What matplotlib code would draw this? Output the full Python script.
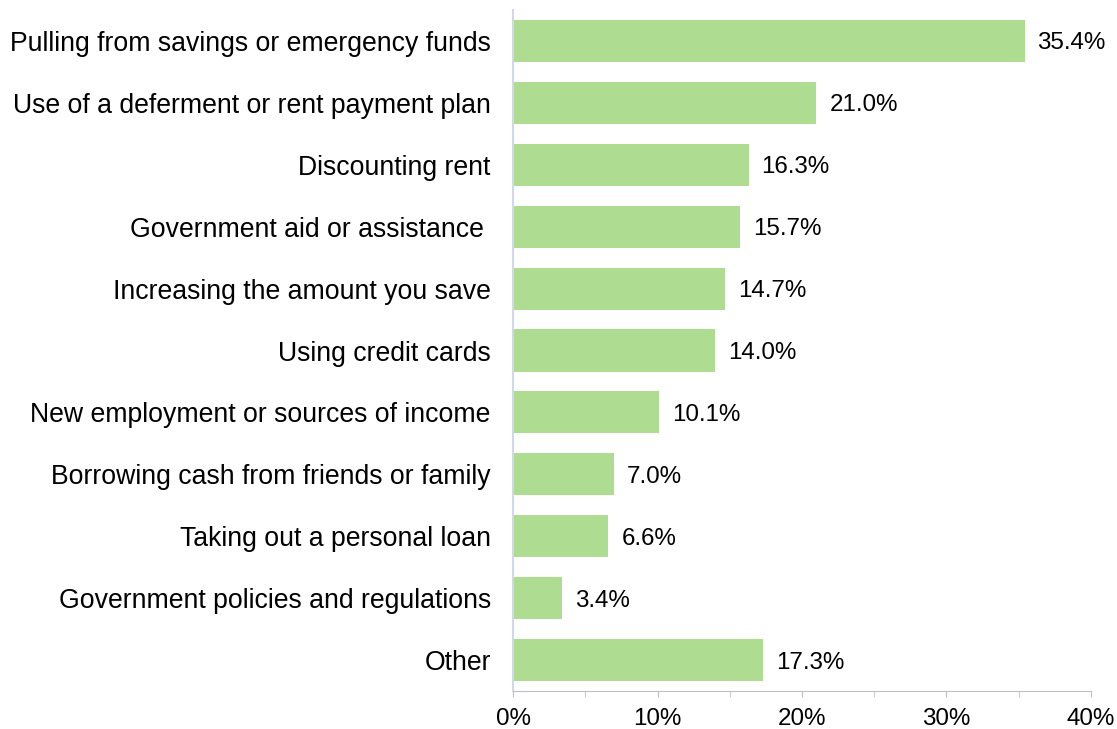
import matplotlib
matplotlib.use("Agg")
import matplotlib.pyplot as plt
from matplotlib.ticker import MultipleLocator, FuncFormatter

categories = [
    "Pulling from savings or emergency funds",
    "Use of a deferment or rent payment plan",
    "Discounting rent",
    "Government aid or assistance ",
    "Increasing the amount you save",
    "Using credit cards",
    "New employment or sources of income",
    "Borrowing cash from friends or family",
    "Taking out a personal loan",
    "Government policies and regulations",
    "Other",
]
values = [35.4, 21.0, 16.3, 15.7, 14.7, 14.0, 10.1, 7.0, 6.6, 3.4, 17.3]

plt.rcParams['font.family'] = ['Liberation Sans', 'DejaVu Sans']

fig = plt.figure(figsize=(11.17, 7.29), dpi=100)
ax = fig.add_axes([0.4593, 0.0521, 0.5174, 0.9342])

y = list(range(len(categories)))
ax.barh(y, values, height=0.68, color="#aedc90")
ax.set_ylim(len(categories) - 0.5, -0.5)
ax.set_xlim(0, 40)
ax.set_yticks(y)
ax.set_yticklabels(categories, fontsize=19.2)
ax.tick_params(axis='y', length=0, pad=16)

for yi, v in zip(y, values):
    ax.text(v + 0.9, yi, f"{v:.1f}%", va='center_baseline', ha='left', fontsize=17.4)

ax.xaxis.set_major_locator(MultipleLocator(10))
ax.xaxis.set_minor_locator(MultipleLocator(5))
ax.xaxis.set_major_formatter(FuncFormatter(lambda x, p: f"{x:.0f}%"))
ax.tick_params(axis='x', which='both', direction='out', length=4, color='#bfbfbf', labelsize=17.4, pad=8)

for s in ['top', 'right']:
    ax.spines[s].set_visible(False)
ax.spines['bottom'].set_color('#bfbfbf')
ax.spines['left'].set_color('#d0d8ea')
ax.spines['left'].set_linewidth(1.5)

fig.savefig("out.png", dpi=100, facecolor='white')
